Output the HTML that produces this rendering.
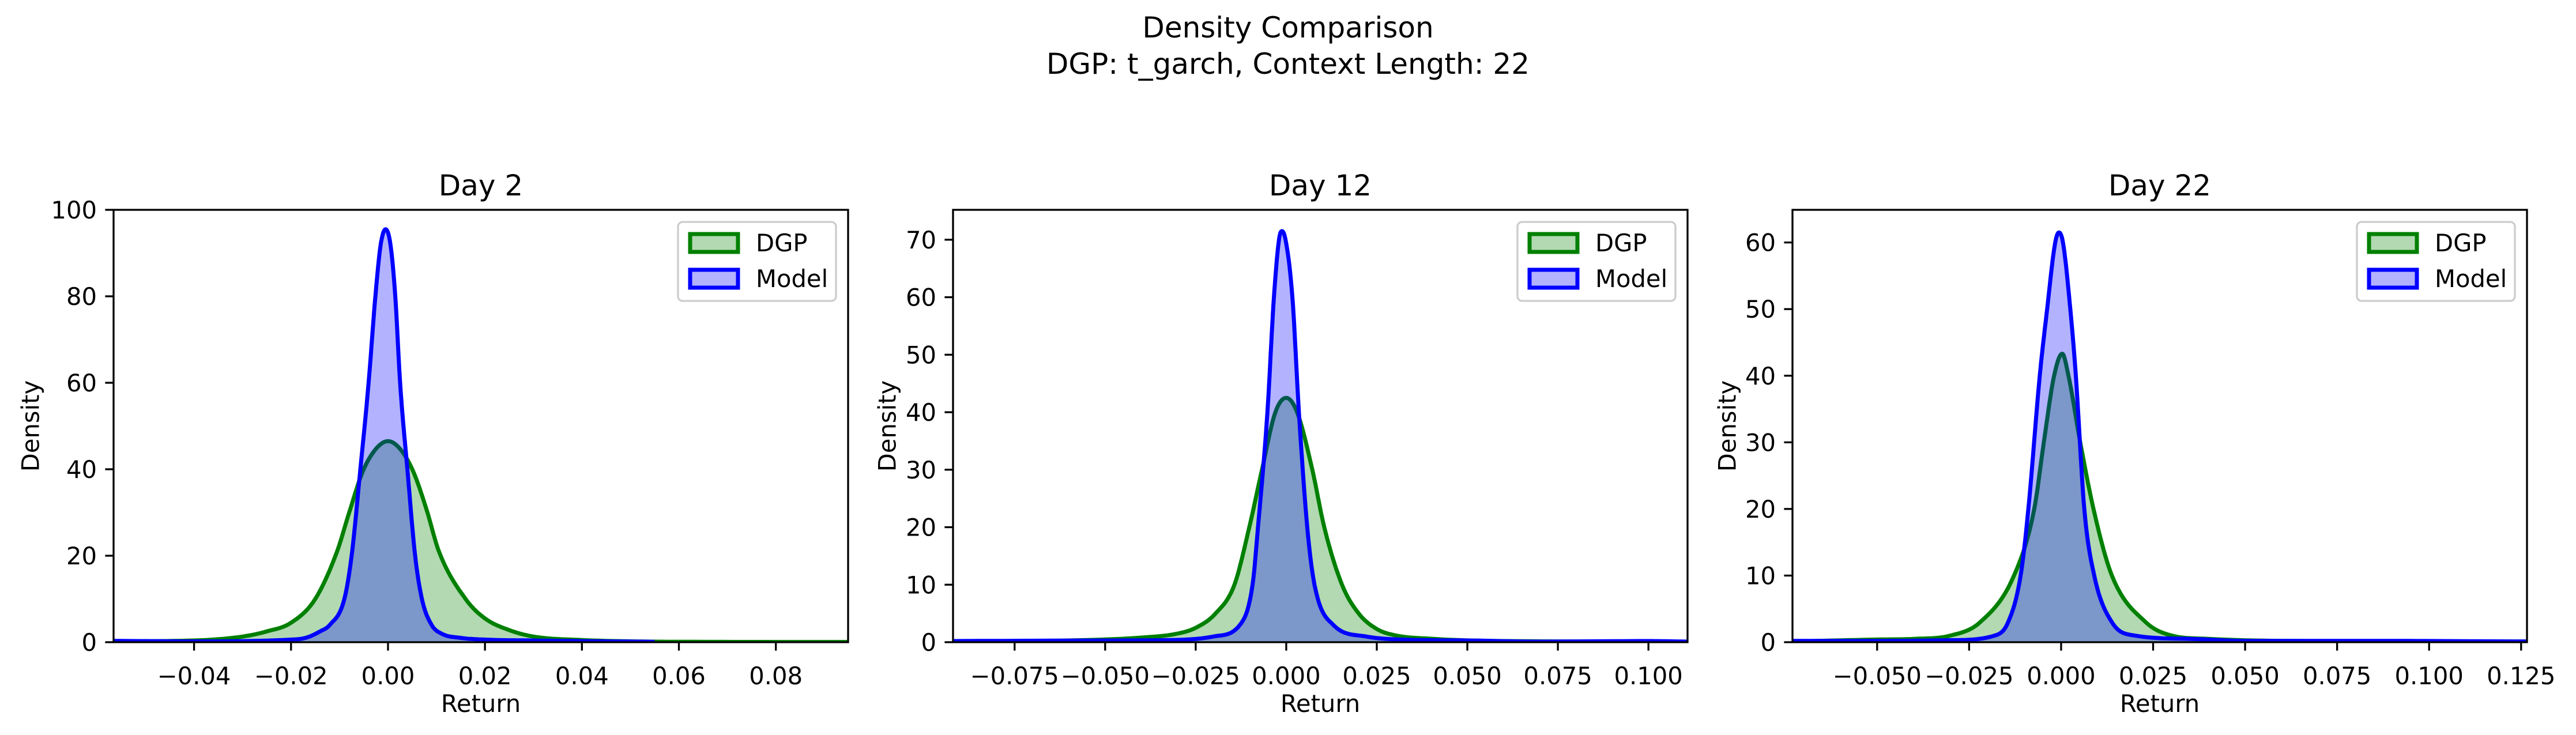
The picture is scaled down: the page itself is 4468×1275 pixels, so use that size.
<!DOCTYPE html>
<html><head><meta charset="utf-8"><style>
html,body{margin:0;padding:0;background:#fff;}
svg{display:block;font-family:"DejaVu Sans","Liberation Sans",sans-serif;}
</style></head><body>
<svg id="fig" width="4468" height="1275" viewBox="0 0 4468 1275" xmlns="http://www.w3.org/2000/svg">
<rect width="4468" height="1275" fill="#fff"/>
<text x="2234" y="65" font-size="50" text-anchor="middle">Density Comparison</text>
<text x="2234" y="128" font-size="50" text-anchor="middle">DGP: t_garch, Context Length: 22</text>
</svg>
<script>
// ---- data ----
const panelTitles = ["Day 2", "Day 12", "Day 22"];
const seriesNames = ["DGP", "Model"];
const xLimits = [[-0.0566, 0.0949], [-0.092, 0.1108], [-0.073, 0.1266]];
const yLimits = [[0, 100], [0, 75.2], [0, 64.9]];
const xTicks = [
  [-0.04, -0.02, 0, 0.02, 0.04, 0.06, 0.08],
  [-0.075, -0.05, -0.025, 0, 0.025, 0.05, 0.075, 0.1],
  [-0.05, -0.025, 0, 0.025, 0.05, 0.075, 0.1, 0.125]
];
const xTickLabels = [
  ["−0.04","−0.02","0.00","0.02","0.04","0.06","0.08"],
  ["−0.075","−0.050","−0.025","0.000","0.025","0.050","0.075","0.100"],
  ["−0.050","−0.025","0.000","0.025","0.050","0.075","0.100","0.125"]
];
const yTicks = [
  [0, 20, 40, 60, 80, 100],
  [0, 10, 20, 30, 40, 50, 60, 70],
  [0, 10, 20, 30, 40, 50, 60]
];
// Day 2
const day2DgpX = [-0.0566,-0.04,-0.03,-0.025,-0.02,-0.015,-0.0105,-0.008,-0.0052,-0.0025,0,0.0025,0.0052,0.008,0.0105,0.016,0.02,0.025,0.03,0.04,0.05,0.06,0.0949];
const day2DgpY = [0.2,0.4,1.3,2.5,4.5,10,21,30,39.5,44.7,46.5,44.7,39.5,30.5,21,10,5.5,2.8,1.3,0.5,0.2,0.1,0.05];
const day2ModelX = [-0.0566,-0.04,-0.02,-0.017,-0.014,-0.012,-0.009,-0.0075,-0.0057,-0.004,-0.0026,-0.0015,-0.0005,0.0005,0.0015,0.0025,0.004,0.0056,0.007,0.009,0.011,0.015,0.02,0.03,0.045,0.055];
const day2ModelY = [0.3,0.2,0.6,1,2.5,4,10,20,40,60,80,92,95.5,92,80,60,40,20,10,4,2,1,0.6,0.4,0.2,0.1];
// Day 12
const day12DgpX = [-0.092,-0.06,-0.04,-0.03,-0.025,-0.0195,-0.0143,-0.0102,-0.0067,-0.003,0,0.003,0.0072,0.0105,0.0154,0.02,0.025,0.03,0.04,0.06,0.1108];
const day12DgpY = [0.1,0.3,0.8,1.5,2.5,5,10,20,30,40,42.5,40,30,20,10,5,2.3,1.2,0.6,0.2,0.1];
const day12ModelX = [-0.092,-0.05,-0.03,-0.02,-0.0128,-0.0093,-0.0078,-0.0052,-0.0034,-0.002,-0.0012,-0.0002,0.0017,0.0035,0.0058,0.0078,0.013,0.022,0.03,0.05,0.07,0.1,0.1108];
const day12ModelY = [0.2,0.3,0.4,1,3,10,20,40,60,70,71.5,70,60,40,20,10,3,1,0.5,0.3,0.1,0.2,0.1];
// Day 22
const day22DgpX = [-0.073,-0.05,-0.04,-0.03,-0.022,-0.0128,-0.0073,-0.0047,-0.0019,0.0003,0.002,0.0052,0.0088,0.0138,0.023,0.03,0.04,0.06,0.1266];
const day22DgpY = [0.1,0.4,0.5,1,3,10,20,30,40,43.3,40,30,20,10,3,1,0.5,0.2,0.1];
const day22ModelX = [-0.073,-0.05,-0.03,-0.018,-0.0144,-0.011,-0.0089,-0.0058,-0.0038,-0.0016,-0.0006,0.0005,0.0025,0.004,0.0063,0.009,0.0138,0.02,0.035,0.05,0.085,0.1266];
const day22ModelY = [0.2,0.2,0.3,1,3,10,20,40,50,60,61.5,60,50,40,20,10,3,1,0.5,0.2,0.2,0.1];

const dgpXs = [day2DgpX, day12DgpX, day22DgpX];
const dgpYs = [day2DgpY, day12DgpY, day22DgpY];
const modelXs = [day2ModelX, day12ModelX, day22ModelX];
const modelYs = [day2ModelY, day12ModelY, day22ModelY];

// monotone cubic interpolation (Fritsch-Carlson)
function monotone(xs, ys) {
  const n = xs.length, d = [], m = new Array(n);
  for (let i = 0; i < n - 1; i++) d.push((ys[i+1]-ys[i])/(xs[i+1]-xs[i]));
  m[0] = d[0]; m[n-1] = d[n-2];
  for (let i = 1; i < n - 1; i++) m[i] = (d[i-1]*d[i] <= 0) ? 0 : (d[i-1]+d[i])/2;
  for (let i = 0; i < n - 1; i++) {
    if (d[i] === 0) { m[i] = 0; m[i+1] = 0; continue; }
    const a = m[i]/d[i], b = m[i+1]/d[i], s = a*a + b*b;
    if (s > 9) { const t = 3/Math.sqrt(s); m[i] = t*a*d[i]; m[i+1] = t*b*d[i]; }
  }
  const out = [];
  for (let i = 0; i < n - 1; i++) {
    const h = xs[i+1]-xs[i], steps = 12;
    for (let k = 0; k < steps; k++) {
      const t = k/steps, t2 = t*t, t3 = t2*t;
      const y = (2*t3-3*t2+1)*ys[i] + (t3-2*t2+t)*h*m[i] + (-2*t3+3*t2)*ys[i+1] + (t3-t2)*h*m[i+1];
      out.push([xs[i]+t*h, Math.max(0, y)]);
    }
  }
  out.push([xs[n-1], ys[n-1]]);
  return out;
}

// ---- layout ----
const NS = "http://www.w3.org/2000/svg";
const svg = document.getElementById("fig");
const axLefts = [197, 1653, 3109];
const axW = 1274, axTop = 364, axH = 750;
const yLabelX = [53, 1539, 2996];
function mk(tag, attrs, parent){
  const e = document.createElementNS(NS, tag);
  for (const k in attrs) e.setAttribute(k, attrs[k]);
  (parent||svg).appendChild(e);
  return e;
}
for (let p = 0; p < 3; p++) {
  const L = axLefts[p];
  const sx = v => L + (v - xLimits[p][0]) / (xLimits[p][1] - xLimits[p][0]) * axW;
  const sy = v => axTop + axH - (v - yLimits[p][0]) / (yLimits[p][1] - yLimits[p][0]) * axH;
  const g = mk("g", {});
  
  
  const clipId = "clip" + p;
  const cp = mk("clipPath", {id: clipId}, g);
  mk("rect", {x: L, y: axTop, width: axW, height: axH}, cp);
  const series = [[dgpXs[p], dgpYs[p], "#008000"], [modelXs[p], modelYs[p], "#0000ff"]];
  series.forEach((s, si) => {
    const [xs, ys, col] = s;
    const pts = monotone(xs, ys);
    let d = "";
    pts.forEach((pt, i) => { d += (i ? "L" : "M") + sx(pt[0]).toFixed(1) + "," + sy(pt[1]).toFixed(1); });
    const fill = mk("path", {d: d + "L" + sx(xs[xs.length-1]).toFixed(1) + "," + sy(0) + "L" + sx(xs[0]).toFixed(1) + "," + sy(0) + "Z", fill: col, "fill-opacity": 0.3, stroke: "none", "clip-path": "url(#" + clipId + ")"}, g);
    
    
    const line = mk("path", {d: d, fill: "none", stroke: col, "stroke-width": 7, "stroke-linejoin": "round", "clip-path": "url(#" + clipId + ")"}, g);
    
    
  });
  const frame = mk("rect", {x: L, y: axTop, width: axW, height: axH, fill: "none", stroke: "#000", "stroke-width": 3.3}, g);
  
  
  xTicks[p].forEach((t, i) => {
    const x = sx(t);
    mk("line", {x1: x, x2: x, y1: axTop + axH, y2: axTop + axH + 14.6, stroke: "#000", "stroke-width": 3.3}, g);
    const tl = mk("text", {x: x, y: axTop + axH + 73, "font-size": 41.7, "text-anchor": "middle"}, g);
    tl.textContent = xTickLabels[p][i];
    
    
  });
  yTicks[p].forEach(t => {
    const y = sy(t);
    mk("line", {x1: L - 14.6, x2: L, y1: y, y2: y, stroke: "#000", "stroke-width": 3.3}, g);
    const tl = mk("text", {x: L - 29, y: y + 15, "font-size": 41.7, "text-anchor": "end"}, g);
    tl.textContent = String(t);
    
    
  });
  const title = mk("text", {x: L + axW/2, y: 339, "font-size": 50, "text-anchor": "middle"}, g);
  title.textContent = panelTitles[p];
  
  
  const xl = mk("text", {x: L + axW/2, y: 1235, "font-size": 41.7, "text-anchor": "middle"}, g);
  xl.textContent = "Return";
  
  
  const yl = mk("text", {x: yLabelX[p], y: 739, "font-size": 41.7, "text-anchor": "middle", transform: "rotate(-90 " + yLabelX[p] + " 739)", "dominant-baseline": "central"}, g);
  yl.textContent = "Density";
  
  
  // legend
  const lx = L + axW - 21 - 274, ly = 385;
  const lg = mk("g", {}, g);
  
  
  mk("rect", {x: lx, y: ly, width: 274, height: 137, rx: 8, fill: "#fff", "fill-opacity": 0.8, stroke: "#cccccc", "stroke-width": 3.3}, lg);
  [["#008000", 0], ["#0000ff", 1]].forEach(([col, i]) => {
    const py = ly + 21 + i * 62;
    const ent = mk("g", {}, lg);
    
    
    mk("rect", {x: lx + 21, y: py, width: 83, height: 31, fill: col, "fill-opacity": 0.3, stroke: col, "stroke-width": 7}, ent);
    const lt = mk("text", {x: lx + 135, y: py + 30, "font-size": 41.7}, ent);
    lt.textContent = seriesNames[i];
  });
}
</script>
</body></html>
